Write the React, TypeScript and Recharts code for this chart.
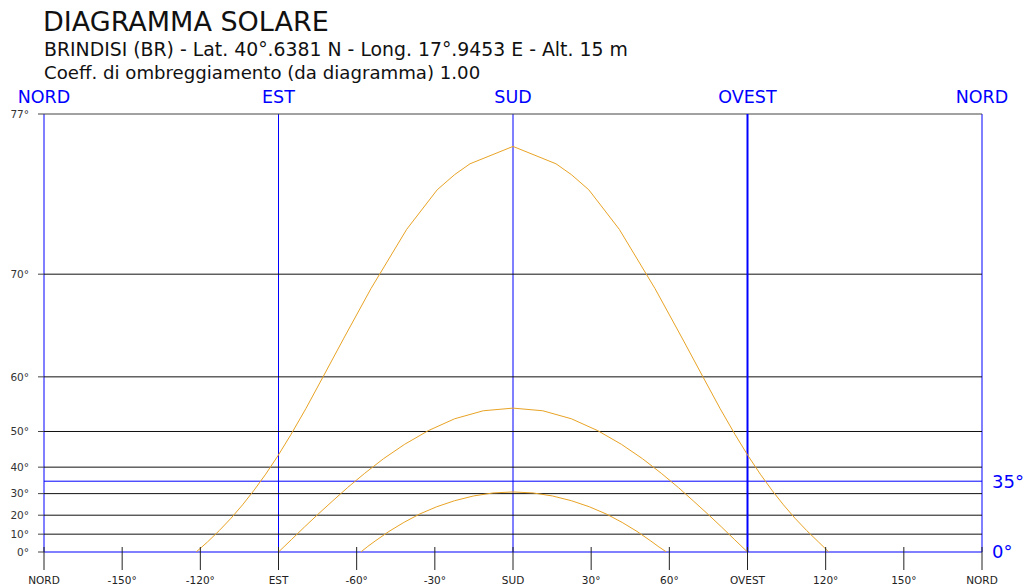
import { LineChart, Line, XAxis, YAxis, ReferenceLine, CartesianGrid } from "recharts";

// azimuth (deg from south, east negative) and solar altitude (deg, on the diagram's scale)
const SUMMER_AZ = [-121.6, -117.3, -112.7, -108.2, -103.8, -99.4, -94.9, -90.2, -85.2, -79.5, -72.9, -64.9, -54.5, -40.8, -29.1, -22.4, -16.5, 0, 16.5, 22.4, 29.1, 40.8, 54.5, 64.9, 72.9, 79.5, 85.2, 90.2, 94.9, 99.4, 103.8, 108.2, 112.7, 117.3, 121.2];
const SUMMER_ALT = [0, 5.6, 12.0, 18.5, 25.0, 31.4, 37.6, 43.6, 49.3, 54.8, 60.0, 64.7, 69.0, 72.6, 74.4, 75.0, 75.4, 76.0, 75.4, 75.0, 74.4, 72.6, 69.0, 64.7, 60.0, 54.8, 49.3, 43.6, 37.6, 31.4, 25.0, 18.5, 12.0, 5.6, 0];

const EQUINOX_AZ = [-90, -85.1, -80.1, -74.9, -69.4, -63.5, -56.9, -49.7, -41.6, -32.5, -22.4, -11.4, 0, 11.4, 22.4, 32.5, 41.6, 49.7, 56.9, 63.5, 69.4, 74.9, 80.1, 85.1, 90];
const EQUINOX_ALT = [0, 6.9, 13.8, 20.4, 26.6, 32.5, 37.9, 42.7, 46.8, 50.2, 52.8, 54.4, 54.9, 54.4, 52.8, 50.2, 46.8, 42.7, 37.9, 32.5, 26.6, 20.4, 13.8, 6.9, 0];

const WINTER_AZ = [-58.4, -55.7, -52.9, -47.6, -41.9, -35.8, -29.3, -22.4, -15.1, -7.6, 0, 7.6, 15.1, 22.4, 29.3, 35.8, 41.9, 47.6, 52.9, 55.7, 58.9];
const WINTER_ALT = [0, 3.2, 6.2, 11.5, 16.3, 20.6, 24.1, 26.9, 29.0, 30.3, 30.7, 30.3, 29.0, 26.9, 24.1, 20.6, 16.3, 11.5, 6.2, 3.2, 0];

const AZ_TICKS = [-180, -150, -120, -90, -60, -30, 0, 30, 60, 90, 120, 150, 180];
const CARDINAL_TICKS = [-180, -90, 0, 90, 180];
const CARDINAL_NAMES: Record<number, string> = { "-180": "NORD", "-90": "EST", "0": "SUD", "90": "OVEST", "180": "NORD" };
const ALT_TICKS = [0, 10, 20, 30, 40, 50, 60, 70, 77];
const GRID_ALTS = [10, 20, 30, 40, 50, 60, 70];
const RIGHT_ALTS = [0, 35];
const ALT_MAX = 77;

// the altitude scale of the diagram is proportional to tan(altitude)
const tanDeg = (d: number) => Math.tan((d * Math.PI) / 180);
const toDeg = (t: number) => Math.round((Math.atan(t) * 180) / Math.PI);

const build = (az: number[], alt: number[]) => az.map((a, i) => ({ az: a, t: tanDeg(alt[i]) }));
const summer = build(SUMMER_AZ, SUMMER_ALT);
const equinox = build(EQUINOX_AZ, EQUINOX_ALT);
const winter = build(WINTER_AZ, WINTER_ALT);
const frame = [
  { az: -180, t: 0 },
  { az: 180, t: tanDeg(ALT_MAX) },
];

const FONT = "'DejaVu Sans', Verdana, sans-serif";
const BLUE = "#0000ff";
const CURVE = "#e8a325";

const azLabel = (v: number) => CARDINAL_NAMES[v] ?? `${v}°`;

const BottomTick = (props: any) => {
  const { x, y, payload } = props;
  return (
    <g>
      <line x1={x} x2={x} y1={y - 5} y2={y + 18} stroke="#222" />
      <text x={x} y={y + 32} textAnchor="middle" fontSize={10.5} fill="#222" fontFamily={FONT}>
        {azLabel(payload.value)}
      </text>
    </g>
  );
};

const TopTick = (props: any) => {
  const { x, y, payload } = props;
  return (
    <text x={x} y={y - 11} textAnchor="middle" fontSize={17.5} fill={BLUE} fontFamily={FONT}>
      {CARDINAL_NAMES[payload.value]}
    </text>
  );
};

export default function App() {
  return (
    <div style={{ position: "absolute", left: 0, top: 0, width: 1024, height: 587, background: "#fff", fontFamily: FONT }}>
      <div style={{ position: "absolute", left: 43, top: 6, fontSize: 27, color: "#111", whiteSpace: "nowrap" }}>
        DIAGRAMMA SOLARE
      </div>
      <div style={{ position: "absolute", left: 44, top: 39, fontSize: 18.85, color: "#111", whiteSpace: "nowrap" }}>
        BRINDISI (BR) - Lat. 40°.6381 N - Long. 17°.9453 E - Alt. 15 m
      </div>
      <div style={{ position: "absolute", left: 44, top: 62, fontSize: 18.15, color: "#111", whiteSpace: "nowrap" }}>
        Coeff. di ombreggiamento (da diagramma) 1.00
      </div>
      <LineChart width={1024} height={587} margin={{ top: 84, right: 0, bottom: 0, left: 0 }}>
        <CartesianGrid xAxisId="top" yAxisId="left" horizontal={false} stroke={BLUE} strokeWidth={1} />
        <XAxis
          dataKey="az"
          type="number"
          domain={[-180, 180]}
          allowDataOverflow
          ticks={AZ_TICKS}
          interval={0}
          axisLine={false}
          tickLine={false}
          tickSize={0}
          tickMargin={0}
          height={35}
          tick={<BottomTick />}
        />
        <XAxis
          xAxisId="top"
          orientation="top"
          dataKey="az"
          type="number"
          domain={[-180, 180]}
          allowDataOverflow
          ticks={CARDINAL_TICKS}
          interval={0}
          axisLine={false}
          tickLine={false}
          tickSize={0}
          tickMargin={0}
          height={30}
          tick={<TopTick />}
        />
        <YAxis
          yAxisId="left"
          type="number"
          width={44}
          domain={[0, tanDeg(ALT_MAX)]}
          allowDataOverflow
          ticks={ALT_TICKS.map(tanDeg)}
          interval={0}
          tickFormatter={(v: number) => `${toDeg(v)}°`}
          axisLine={false}
          tickSize={6}
          tickMargin={9}
          tickLine={{ stroke: "#444" }}
          tick={{ fontSize: 10.5, fill: "#333", fontFamily: FONT }}
        />
        <YAxis
          yAxisId="right"
          orientation="right"
          type="number"
          width={42}
          domain={[0, tanDeg(ALT_MAX)]}
          allowDataOverflow
          ticks={RIGHT_ALTS.map(tanDeg)}
          interval={0}
          tickFormatter={(v: number) => `${toDeg(v)}°`}
          axisLine={false}
          tickLine={false}
          tickSize={0}
          tickMargin={10}
          tick={{ fontSize: 18, fill: BLUE, fontFamily: FONT }}
        />
        {GRID_ALTS.map((a) => (
          <ReferenceLine key={`h${a}`} yAxisId="left" y={tanDeg(a)} stroke="#111" strokeWidth={1} />
        ))}
        <ReferenceLine yAxisId="left" y={tanDeg(ALT_MAX)} stroke="#444" strokeWidth={1} />
        {RIGHT_ALTS.map((a) => (
          <ReferenceLine key={`b${a}`} yAxisId="left" y={tanDeg(a)} stroke={BLUE} strokeWidth={1} />
        ))}
        <ReferenceLine yAxisId="left" x={90} stroke={BLUE} strokeWidth={2} />
        {/* invisible series so the top and right axes get a domain */}
        <Line xAxisId="top" yAxisId="right" data={frame} dataKey="t" stroke="none" dot={false} activeDot={false} isAnimationActive={false} />
        <Line yAxisId="left" data={summer} dataKey="t" type="linear" stroke={CURVE} strokeWidth={1} dot={false} isAnimationActive={false} />
        <Line yAxisId="left" data={equinox} dataKey="t" type="linear" stroke={CURVE} strokeWidth={1} dot={false} isAnimationActive={false} />
        <Line yAxisId="left" data={winter} dataKey="t" type="linear" stroke={CURVE} strokeWidth={1} dot={false} isAnimationActive={false} />
      </LineChart>
    </div>
  );
}
